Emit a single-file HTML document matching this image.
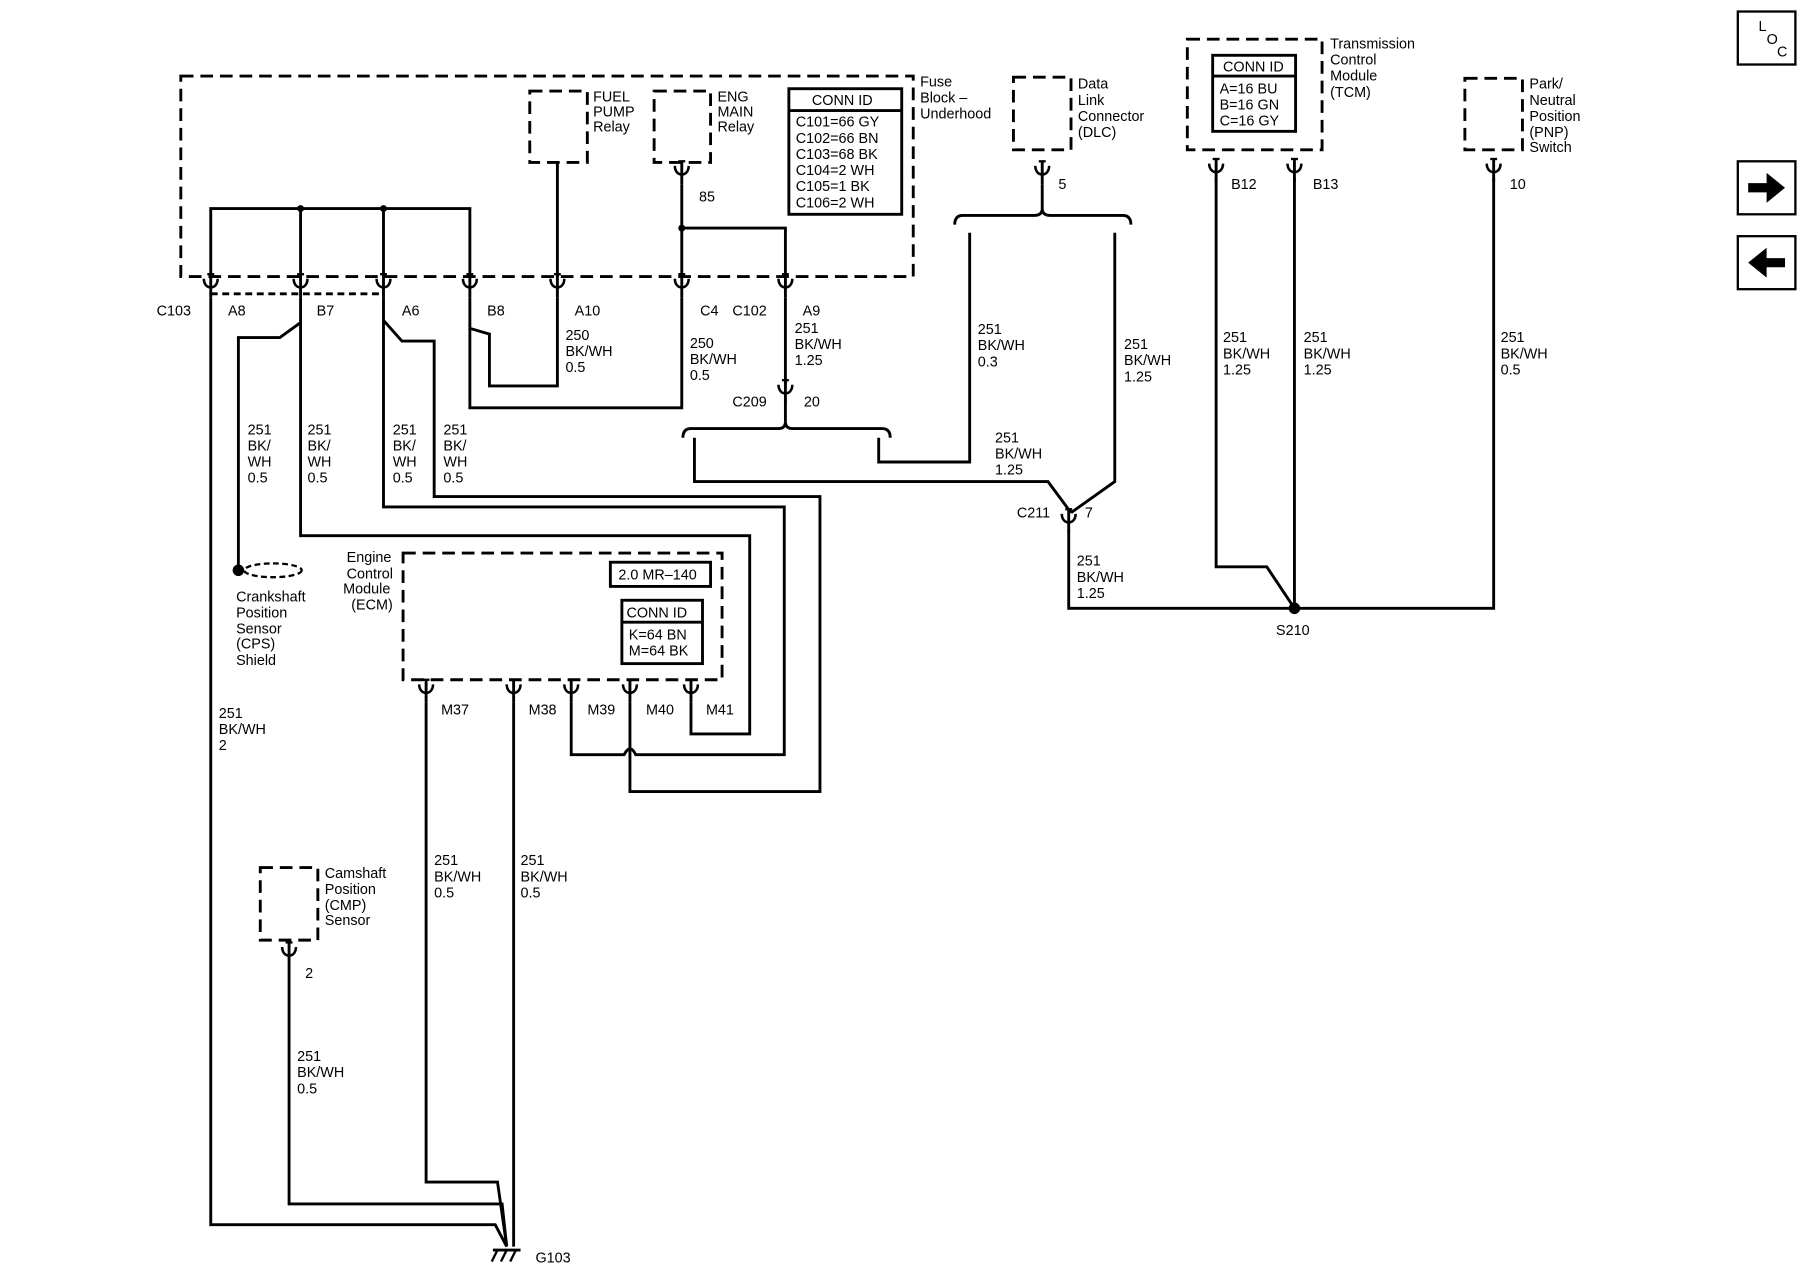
<!DOCTYPE html>
<html><head><meta charset="utf-8"><style>
html,body{margin:0;padding:0;background:#fff;}
svg{display:block}
text{font-family:"Liberation Sans",Arial,sans-serif;font-size:12.5px;fill:#000;}
</style></head><body>
<svg width="1800" height="1280" viewBox="0 0 1563 1111" preserveAspectRatio="none" xmlns="http://www.w3.org/2000/svg">
<defs>
<g id="cn"><path d="M-6,-6 C-6,4 6,4 6,-6" fill="none" stroke="#000" stroke-width="2.2"/><line x1="0" y1="-10" x2="0" y2="10" stroke="#000" stroke-width="2.5"/><line x1="-3" y1="-10" x2="3" y2="-10" stroke="#000" stroke-width="2"/></g>
</defs>
<rect width="1563" height="1111" fill="#fff"/>
<g fill="none" stroke="#000" stroke-width="2.5">
<g stroke-dasharray="11,6">
<rect x="157" y="66" width="636" height="174"/>
<rect x="460" y="79" width="50" height="62"/>
<rect x="568" y="79" width="49" height="62"/>
<rect x="880" y="67" width="50" height="63"/>
<rect x="1031" y="34" width="117" height="96"/>
<rect x="1272" y="68" width="50" height="62"/>
<rect x="350" y="480" width="277" height="110"/>
<rect x="226" y="753" width="50" height="63"/>
<line x1="183" y1="255" x2="333" y2="255" stroke-dasharray="6,4"/>
<ellipse cx="237" cy="495" rx="25" ry="6" stroke-dasharray="5,3" stroke-width="2"/>
</g>
<rect x="685" y="77" width="98" height="109"/><line x1="685" y1="96" x2="783" y2="96"/>
<rect x="1053" y="48" width="72" height="66"/><line x1="1053" y1="66" x2="1125" y2="66"/>
<rect x="530" y="488" width="87" height="21"/>
<rect x="540" y="521" width="70" height="55"/><line x1="540" y1="540" x2="610" y2="540"/>
<rect x="1509" y="10" width="50" height="46" stroke-width="2"/>
<rect x="1509" y="140" width="50" height="46" stroke-width="2"/>
<rect x="1509" y="205" width="50" height="46" stroke-width="2"/>
<polyline points="183,240 183,181 408,181 408,240"/>
<line x1="261" y1="181" x2="261" y2="240"/>
<line x1="333" y1="181" x2="333" y2="240"/>
<line x1="484" y1="141" x2="484" y2="240"/>
<line x1="592" y1="160" x2="592" y2="240"/>
<polyline points="592,198 682,198 682,240"/>
<polyline points="183,258 183,1063 430,1063 440,1082"/>
<polyline points="261,258 261,280 243,293 207,293 207,495"/>
<polyline points="261,280 261,465 651,465 651,637 600,637 600,610"/>
<polyline points="333,258 333,278 349,296 377,296 377,431 712,431 712,687 547,687 547,610"/>
<path d="M333,278 L333,440 L681,440 L681,655 L552,655 Q547,645 542,655 L496,655 L496,610"/>
<polyline points="408,258 408,285 425,290 425,335 484,335 484,258"/>
<polyline points="408,285 408,354 592,354 592,258"/>
<polyline points="682,258 682,335"/>
<polyline points="682,348 682,366"/>
<path d="M593,380 Q593,372 600,372 L676,372 Q682,372 682,366 Q682,372 688,372 L766,372 Q773,372 773,380"/>
<polyline points="603,380 603,418 910,418 930,445"/>
<polyline points="763,380 763,401 842,401 842,202"/>
<path d="M829,195 Q829,187 836,187 L898,187 Q905,187 905,181 Q905,187 912,187 L975,187 Q982,187 982,195"/>
<polyline points="968,202 968,418 930,445"/>
<line x1="905" y1="160" x2="905" y2="181"/>
<polyline points="928,460 928,528 1297,528 1297,155"/>
<polyline points="1056,155 1056,492 1100,492 1124,528"/>
<line x1="1124" y1="155" x2="1124" y2="528"/>
<polyline points="370,610 370,1026 432,1026 440,1082"/>
<line x1="446" y1="610" x2="446" y2="1082"/>
<polyline points="251,838 251,1045 436,1045 440,1082"/>
<line x1="428" y1="1085" x2="452" y2="1085"/>
<path d="M432,1085 l-5,10 M440,1085 l-5,10 M448,1085 l-5,10" stroke-width="2"/>
</g>
<polygon points="1518,159 1534,159 1534,150 1550,163 1534,176 1534,167 1518,167" fill="#000"/>
<polygon points="1550,224 1534,224 1534,215 1518,228 1534,241 1534,232 1550,232" fill="#000"/>
<g>
<use href="#cn" x="183" y="248"/><use href="#cn" x="261" y="248"/><use href="#cn" x="333" y="248"/>
<use href="#cn" x="408" y="248"/><use href="#cn" x="484" y="248"/><use href="#cn" x="592" y="248"/>
<use href="#cn" x="682" y="248"/><use href="#cn" x="592" y="150"/><use href="#cn" x="905" y="150"/>
<use href="#cn" x="682" y="340"/><use href="#cn" x="928" y="452"/>
<use href="#cn" x="1056" y="148"/><use href="#cn" x="1124" y="148"/><use href="#cn" x="1297" y="148"/>
<use href="#cn" x="370" y="600"/><use href="#cn" x="446" y="600"/><use href="#cn" x="496" y="600"/>
<use href="#cn" x="547" y="600"/><use href="#cn" x="600" y="600"/><use href="#cn" x="251" y="828"/>
</g>
<circle cx="207" cy="495" r="5"/><circle cx="261" cy="181" r="3"/><circle cx="333" cy="181" r="3"/>
<circle cx="592" cy="198" r="3"/><circle cx="1124" cy="528" r="5"/>
<g>
<text x="515" y="88">FUEL</text><text x="515" y="101">PUMP</text><text x="515" y="114">Relay</text>
<text x="623" y="88">ENG</text><text x="623" y="101">MAIN</text><text x="623" y="114">Relay</text>
<text x="705" y="91">CONN ID</text>
<text x="691" y="110">C101=66 GY</text><text x="691" y="124">C102=66 BN</text><text x="691" y="138">C103=68 BK</text>
<text x="691" y="152">C104=2 WH</text><text x="691" y="166">C105=1 BK</text><text x="691" y="180">C106=2 WH</text>
<text x="799" y="75">Fuse</text><text x="799" y="89">Block –</text><text x="799" y="103">Underhood</text>
<text x="936" y="77">Data</text><text x="936" y="91">Link</text><text x="936" y="105">Connector</text><text x="936" y="119">(DLC)</text>
<text x="1155" y="42">Transmission</text><text x="1155" y="56">Control</text><text x="1155" y="70">Module</text><text x="1155" y="84">(TCM)</text>
<text x="1062" y="62">CONN ID</text><text x="1059" y="81">A=16 BU</text><text x="1059" y="95">B=16 GN</text><text x="1059" y="109">C=16 GY</text>
<text x="1328" y="77">Park/</text><text x="1328" y="91">Neutral</text><text x="1328" y="105">Position</text><text x="1328" y="119">(PNP)</text><text x="1328" y="132">Switch</text>
<text x="1527" y="27">L</text><text x="1534" y="38">O</text><text x="1543" y="49">C</text>
<text x="607" y="175">85</text><text x="919" y="164">5</text><text x="1069" y="164">B12</text><text x="1140" y="164">B13</text><text x="1311" y="164">10</text>
<text x="136" y="274">C103</text><text x="198" y="274">A8</text><text x="275" y="274">B7</text><text x="349" y="274">A6</text>
<text x="423" y="274">B8</text><text x="499" y="274">A10</text><text x="608" y="274">C4</text><text x="636" y="274">C102</text><text x="697" y="274">A9</text>
<text x="491" y="295">250</text><text x="491" y="309">BK/WH</text><text x="491" y="323">0.5</text>
<text x="599" y="302">250</text><text x="599" y="316">BK/WH</text><text x="599" y="330">0.5</text>
<text x="690" y="289">251</text><text x="690" y="303">BK/WH</text><text x="690" y="317">1.25</text>
<text x="636" y="353">C209</text><text x="698" y="353">20</text>
<text x="849" y="290">251</text><text x="849" y="304">BK/WH</text><text x="849" y="318">0.3</text>
<text x="976" y="303">251</text><text x="976" y="317">BK/WH</text><text x="976" y="331">1.25</text>
<text x="864" y="384">251</text><text x="864" y="398">BK/WH</text><text x="864" y="412">1.25</text>
<text x="1062" y="297">251</text><text x="1062" y="311">BK/WH</text><text x="1062" y="325">1.25</text>
<text x="1132" y="297">251</text><text x="1132" y="311">BK/WH</text><text x="1132" y="325">1.25</text>
<text x="1303" y="297">251</text><text x="1303" y="311">BK/WH</text><text x="1303" y="325">0.5</text>
<text x="883" y="449">C211</text><text x="942" y="449">7</text>
<text x="935" y="491">251</text><text x="935" y="505">BK/WH</text><text x="935" y="519">1.25</text>
<text x="1108" y="551">S210</text>
<text x="215" y="377">251</text><text x="215" y="391">BK/</text><text x="215" y="405">WH</text><text x="215" y="419">0.5</text>
<text x="267" y="377">251</text><text x="267" y="391">BK/</text><text x="267" y="405">WH</text><text x="267" y="419">0.5</text>
<text x="341" y="377">251</text><text x="341" y="391">BK/</text><text x="341" y="405">WH</text><text x="341" y="419">0.5</text>
<text x="385" y="377">251</text><text x="385" y="391">BK/</text><text x="385" y="405">WH</text><text x="385" y="419">0.5</text>
<text x="301" y="488">Engine</text><text x="301" y="502">Control</text><text x="298" y="515">Module</text><text x="305" y="529">(ECM)</text>
<text x="537" y="503">2.0 MR–140</text><text x="544" y="536">CONN ID</text><text x="546" y="555">K=64 BN</text><text x="546" y="569">M=64 BK</text>
<text x="205" y="522">Crankshaft</text><text x="205" y="536">Position</text><text x="205" y="550">Sensor</text><text x="205" y="563">(CPS)</text><text x="205" y="577">Shield</text>
<text x="383" y="620">M37</text><text x="459" y="620">M38</text><text x="510" y="620">M39</text><text x="561" y="620">M40</text><text x="613" y="620">M41</text>
<text x="190" y="623">251</text><text x="190" y="637">BK/WH</text><text x="190" y="651">2</text>
<text x="377" y="751">251</text><text x="377" y="765">BK/WH</text><text x="377" y="779">0.5</text>
<text x="452" y="751">251</text><text x="452" y="765">BK/WH</text><text x="452" y="779">0.5</text>
<text x="282" y="762">Camshaft</text><text x="282" y="776">Position</text><text x="282" y="790">(CMP)</text><text x="282" y="803">Sensor</text>
<text x="265" y="849">2</text>
<text x="258" y="921">251</text><text x="258" y="935">BK/WH</text><text x="258" y="949">0.5</text>
<text x="465" y="1096">G103</text>
</g>
</svg>
</body></html>
